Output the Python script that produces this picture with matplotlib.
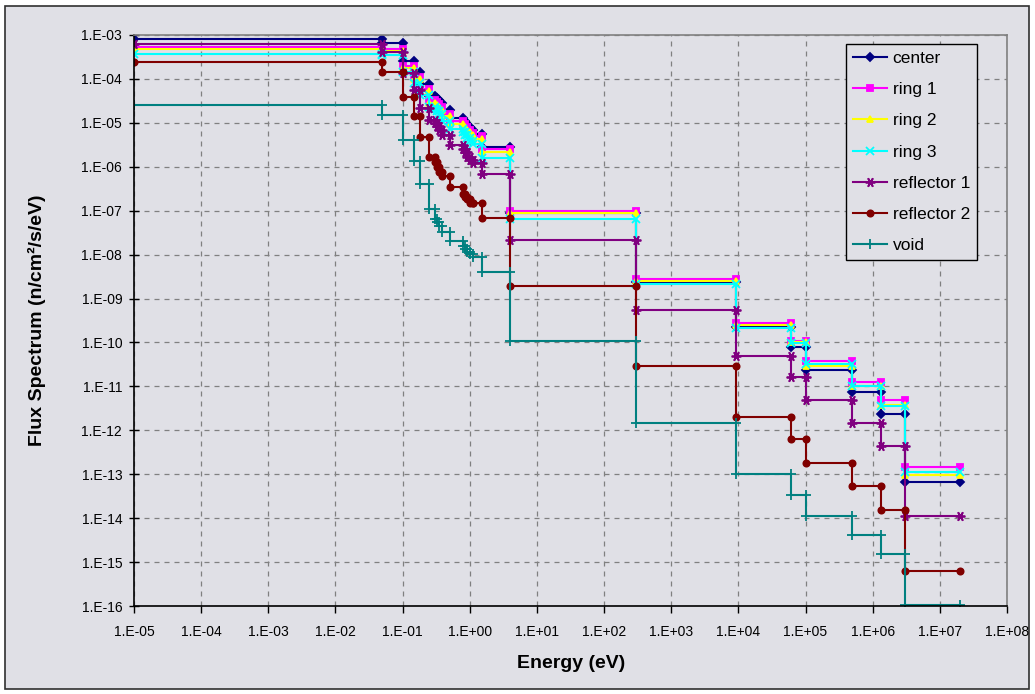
import numpy as np
import matplotlib.pyplot as plt
from matplotlib.ticker import LogLocator, FuncFormatter, NullLocator
from matplotlib.patches import Rectangle

plt.rcParams['font.family'] = ['Liberation Sans', 'DejaVu Sans']

# group boundaries (eV), ascending
energy_bounds = [1e-5, 0.05, 0.1, 0.15, 0.18, 0.25, 0.3, 0.32, 0.35, 0.38, 0.5,
                 0.8, 0.85, 0.92, 1.0, 1.1, 1.5, 4.0, 300, 9.1e3, 6.1e4, 1e5,
                 5e5, 1.35e6, 3e6, 2e7]

# group flux per eV, one value per group (same order as the bounds)
center = [8.2e-4, 6.5e-4, 2.6e-4, 1.46e-4, 7.6e-5, 4.1e-5, 3.7e-5, 3.3e-5, 2.8e-5,
          1.95e-5, 1.3e-5, 1.1e-5, 9.3e-6, 8.1e-6, 6.8e-6, 5.7e-6, 2.84e-6, 8.8e-8,
          2.4e-9, 2.3e-10, 7.8e-11, 2.3e-11, 7.3e-12, 2.3e-12, 6.5e-14]
ring1 = [5.4e-4, 4.8e-4, 2.0e-4, 1.12e-4, 5.9e-5, 3.3e-5, 3.0e-5, 2.7e-5, 2.3e-5,
         1.6e-5, 1.1e-5, 9.4e-6, 8.0e-6, 7.0e-6, 5.9e-6, 5.0e-6, 2.5e-6, 9.9e-8,
         2.8e-9, 2.75e-10, 1.1e-10, 3.7e-11, 1.24e-11, 4.9e-12, 1.43e-13]
ring2 = [4.7e-4, 4.3e-4, 1.75e-4, 9.8e-5, 5.2e-5, 2.9e-5, 2.6e-5, 2.35e-5, 2.0e-5,
         1.4e-5, 9.6e-6, 8.2e-6, 7.0e-6, 6.1e-6, 5.2e-6, 4.4e-6, 2.2e-6, 9.0e-8,
         2.5e-9, 2.45e-10, 1.0e-10, 2.9e-11, 1.0e-11, 3.7e-12, 9.8e-14]
ring3 = [3.7e-4, 3.5e-4, 1.45e-4, 8.0e-5, 4.2e-5, 2.3e-5, 2.1e-5, 1.85e-5, 1.6e-5,
         1.1e-5, 7.4e-6, 6.3e-6, 5.3e-6, 4.6e-6, 3.9e-6, 3.3e-6, 1.55e-6, 6.6e-8,
         2.1e-9, 2.15e-10, 9.5e-11, 3.2e-11, 1.04e-11, 3.5e-12, 1.1e-13]
reflector1 = [6.4e-4, 4.2e-4, 1.34e-4, 5.6e-5, 2.14e-5, 1.15e-5, 9.8e-6, 8.4e-6, 6.8e-6,
              5.2e-6, 3.1e-6, 2.6e-6, 2.2e-6, 1.68e-6, 1.41e-6, 1.19e-6, 6.8e-7, 2.2e-8,
              5.4e-10, 4.8e-11, 1.62e-11, 5.0e-12, 1.45e-12, 4.5e-13, 1.13e-14]
reflector2 = [2.46e-4, 1.46e-4, 3.92e-5, 1.45e-5, 4.8e-6, 1.68e-6, 1.29e-6, 9.9e-7, 7.6e-7,
              6.1e-7, 3.47e-7, 2.45e-7, 2.06e-7, 1.82e-7, 1.53e-7, 1.48e-7, 6.7e-8, 1.89e-9,
              2.98e-11, 2.04e-12, 6.3e-13, 1.8e-13, 5.3e-14, 1.52e-14, 6.3e-16]
void = [2.6e-5, 1.5e-5, 4.0e-6, 1.34e-6, 4.15e-7, 1.12e-7, 6.6e-8, 5.6e-8, 4.6e-8,
        3.3e-8, 2.0e-8, 1.55e-8, 1.32e-8, 1.16e-8, 1.01e-8, 8.8e-9, 4.0e-9, 1.1e-10,
        1.45e-12, 1.0e-13, 3.4e-14, 1.12e-14, 4.1e-15, 1.5e-15, 1.05e-16]

labels = ['center', 'ring 1', 'ring 2', 'ring 3', 'reflector 1', 'reflector 2', 'void']
series = [center, ring1, ring2, ring3, reflector1, reflector2, void]
colors = ['#000080', '#FF00FF', '#FFFF00', '#00FFFF', '#800080', '#800000', '#008080']
markers = ['D', 's', '^', 'x', (6, 2, 90), 'o', '+']
msizes = [4.5, 4.5, 5, 5.5, 7, 4.5, 7]

bg = '#E0E0E6'


def steps(vals):
    # each group is drawn as a flat segment, points at both group edges
    x = []
    y = []
    for i, v in enumerate(vals):
        x += [energy_bounds[i], energy_bounds[i + 1]]
        y += [v, v]
    return x, y


fig = plt.figure(figsize=(10.35, 6.94), dpi=100)
fig.patch.set_facecolor('white')
fig.patches.append(Rectangle((5 / 1035, 5 / 694), 1024 / 1035, 683 / 694,
                             transform=fig.transFigure, facecolor=bg,
                             edgecolor='#303030', lw=1.2, zorder=-10))

# plot area: x 134..1007 px, y 35..606 px
ax = fig.add_axes([134 / 1035, 88 / 694, 873 / 1035, 571 / 694])
ax.set_facecolor(bg)

for vals, lab, c, m, ms in zip(series, labels, colors, markers, msizes):
    x, y = steps(vals)
    ax.plot(x, y, color=c, lw=1.5, marker=m, markersize=ms,
            markerfacecolor=c, markeredgecolor=c, markeredgewidth=1.3, label=lab)

ax.set_xscale('log')
ax.set_yscale('log')
ax.set_xlim(1e-5, 1e8)
ax.set_ylim(1e-16, 1e-3)

ax.xaxis.set_major_locator(LogLocator(base=10, numticks=30))
ax.yaxis.set_major_locator(LogLocator(base=10, numticks=30))
ax.xaxis.set_minor_locator(NullLocator())
ax.yaxis.set_minor_locator(NullLocator())
fmt = FuncFormatter(lambda v, p: '1.E%+03d' % int(round(np.log10(v))))
ax.xaxis.set_major_formatter(fmt)
ax.yaxis.set_major_formatter(fmt)

ax.grid(True, which='major', color='#808080', linestyle=(0, (4, 4)), lw=0.9)
ax.set_axisbelow(True)

for s in ['left', 'bottom']:
    ax.spines[s].set_color('black')
    ax.spines[s].set_linewidth(1.2)
for s in ['top', 'right']:
    ax.spines[s].set_color('#808080')
    ax.spines[s].set_linewidth(1.2)

ax.tick_params(axis='x', direction='out', length=5, width=1, pad=9, labelsize=10)
ax.tick_params(axis='y', direction='inout', length=7, width=1, pad=5, labelsize=10)

fig.text(37 / 1035, 1 - 320 / 694, 'Flux Spectrum (n/cm\u00b2/s/eV)', rotation=90,
         ha='center', va='center', fontsize=14, fontweight='bold')
fig.text(571 / 1035, 1 - 663 / 694, 'Energy (eV)', ha='center', va='center',
         fontsize=14, fontweight='bold')

leg = ax.legend(loc='upper right', bbox_to_anchor=(0.9655, 0.984), borderaxespad=0,
                fontsize=12.5, fancybox=False, framealpha=1, facecolor=bg,
                edgecolor='black', handlelength=2.0, handletextpad=0.3,
                labelspacing=0.92, borderpad=0.4)
leg.get_frame().set_linewidth(1.0)

fig.savefig('out.png', dpi=100, facecolor=fig.get_facecolor())
